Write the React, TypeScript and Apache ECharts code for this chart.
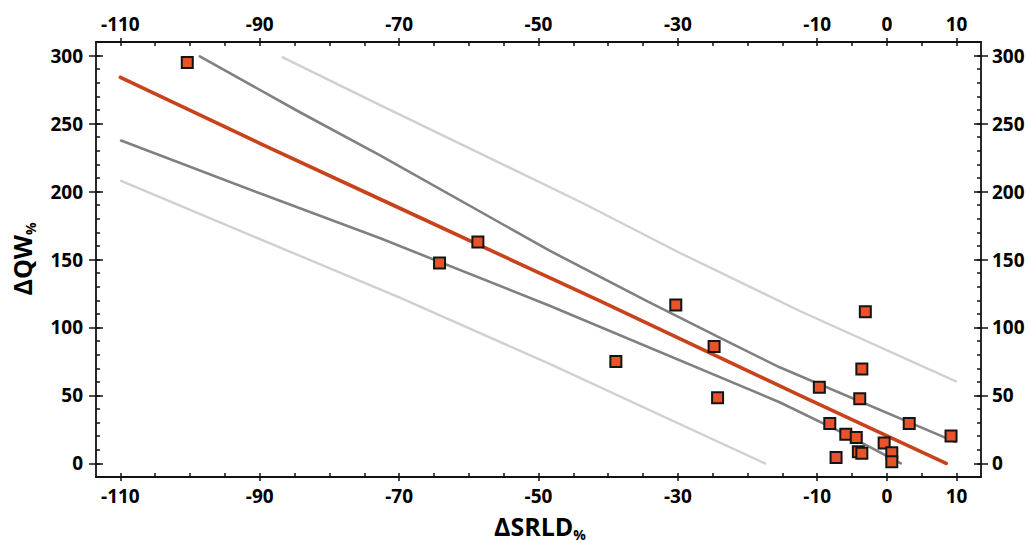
import React, { useEffect, useRef } from "react";
import * as echarts from "echarts";

// ---- data ----
const pointsX = [-100.4, -58.7, -64.2, -30.3, -24.8, -38.9, -24.3, -3.1, -3.6, -9.7, -3.9, 3.2, 9.2, -8.2, -5.9, -4.4, -0.4, 0.7, 0.7, -4.1, -3.6, -7.3];
const pointsY = [295, 162.8, 147.5, 116.5, 86, 75, 48.3, 111.6, 69.5, 56, 47.5, 29.3, 20.2, 29.3, 21.4, 19, 15, 7.8, 1.2, 8.5, 7.5, 4.4];

const fitX = [-110, -90, -69.9, -41.2, -12.5, 8.5];
const fitY = [284, 235.5, 187.7, 119.5, 50, 0];

const upperCiX = [-98.6, -84.3, -72.8, -48.4, -34.5, -24.0, -15.4, 9.8];
const upperCiY = [299.4, 258.5, 226.8, 156.5, 119.5, 92.5, 70.7, 15.8];
const lowerCiX = [-109.9, -90, -72.8, -48.4, -15.4, -5.9, 2];
const lowerCiY = [237.5, 198.7, 165.8, 116, 45, 21.4, 0];

const upperPiX = [-86.7, -72.8, -43.6, -29.7, -12.5, 9.9];
const upperPiY = [298.7, 263.8, 191.4, 154.8, 112.1, 60.4];
const lowerPiX = [-109.9, -69.9, -48.4, -17.5];
const lowerPiY = [207.8, 121.9, 73.2, 0];

const xMajorTicks = [-110, -90, -70, -50, -30, -10, 0, 10];
const xMinorTicks = [-110, -105, -100, -95, -90, -85, -80, -75, -70, -65, -60, -55, -50, -45, -40, -35, -30, -25, -20, -15, -10, -5, 0, 5, 10];
const yMajorTicks = [0, 50, 100, 150, 200, 250, 300];
const yMinorTicks = [0, 10, 20, 30, 40, 50, 60, 70, 80, 90, 100, 110, 120, 130, 140, 150, 160, 170, 180, 190, 200, 210, 220, 230, 240, 250, 260, 270, 280, 290, 300];

const X_MIN = -113.5;
const X_MAX = 13.5;
const Y_MIN = -10;
const Y_MAX = 310;

const FONT = "'Open Sans', 'DejaVu Sans', sans-serif";
const AXIS_COLOR = "#111111";

const zip = (xs: number[], ys: number[]) => xs.map((x, i) => [x, ys[i]]);

function xAxisDef(position: "top" | "bottom", kind: "major" | "inner") {
  const isMajor = kind === "major";
  return {
    type: "value",
    position,
    min: X_MIN,
    max: X_MAX,
    splitLine: { show: false },
    axisLine: { show: isMajor, onZero: false, lineStyle: { color: AXIS_COLOR, width: 1.8 } },
    axisTick: {
      show: true,
      inside: !isMajor,
      length: 4,
      customValues: isMajor ? xMajorTicks : xMinorTicks,
      lineStyle: { color: AXIS_COLOR, width: 1.5 },
    },
    axisLabel: {
      show: isMajor,
      customValues: xMajorTicks,
      margin: 9,
      color: "#000",
      fontFamily: FONT,
      fontWeight: "bold",
      fontSize: 19,
    },
  };
}

function yAxisDef(position: "left" | "right", kind: "major" | "innerMajor" | "innerMinor") {
  const isMajor = kind === "major";
  return {
    type: "value",
    position,
    min: Y_MIN,
    max: Y_MAX,
    splitLine: { show: false },
    axisLine: { show: isMajor, onZero: false, lineStyle: { color: AXIS_COLOR, width: 1.8 } },
    axisTick: {
      show: true,
      inside: !isMajor,
      length: kind === "innerMinor" ? 4 : 7,
      customValues: kind === "innerMinor" ? yMinorTicks : yMajorTicks,
      lineStyle: { color: AXIS_COLOR, width: 1.5 },
    },
    axisLabel: {
      show: isMajor,
      customValues: yMajorTicks,
      margin: position === "left" ? 13 : 11,
      color: "#000",
      fontFamily: FONT,
      fontWeight: "bold",
      fontSize: 19,
    },
  };
}

function lineSeries(name: string, xs: number[], ys: number[], color: string, width: number) {
  return {
    name,
    type: "line",
    xAxisIndex: 0,
    yAxisIndex: 0,
    data: zip(xs, ys),
    showSymbol: false,
    symbol: "none",
    smooth: false,
    lineStyle: { color, width, cap: "round", join: "round" },
    z: 2,
  };
}

export default function App() {
  const ref = useRef<HTMLDivElement>(null);

  useEffect(() => {
    if (!ref.current) return;
    const chart = echarts.init(ref.current, undefined, { renderer: "svg" });
    chart.setOption({
      animation: false,
      backgroundColor: "#ffffff",
      grid: { left: 96, right: 50, top: 42, bottom: 66 },
      xAxis: [
        xAxisDef("bottom", "major"),
        xAxisDef("bottom", "inner"),
        xAxisDef("top", "major"),
        xAxisDef("top", "inner"),
      ],
      yAxis: [
        yAxisDef("left", "major"),
        yAxisDef("left", "innerMajor"),
        yAxisDef("left", "innerMinor"),
        yAxisDef("right", "major"),
        yAxisDef("right", "innerMajor"),
        yAxisDef("right", "innerMinor"),
      ],
      series: [
        lineSeries("Upper prediction", upperPiX, upperPiY, "#d0d0d0", 2.4),
        lineSeries("Lower prediction", lowerPiX, lowerPiY, "#d0d0d0", 2.4),
        lineSeries("Upper confidence", upperCiX, upperCiY, "#808080", 2.6),
        lineSeries("Lower confidence", lowerCiX, lowerCiY, "#808080", 2.6),
        lineSeries("Regression", fitX, fitY, "#c8431b", 3.6),
        {
          name: "Observed",
          type: "scatter",
          xAxisIndex: 0,
          yAxisIndex: 0,
          data: zip(pointsX, pointsY),
          symbol: "rect",
          symbolSize: 11,
          itemStyle: { color: "#e8532a", borderColor: "#141414", borderWidth: 2, opacity: 1 },
          z: 5,
        },
      ],
      graphic: [
        {
          type: "text",
          x: 22,
          y: 259,
          rotation: Math.PI / 2,
          style: {
            text: "{a|ΔQW}{b|%}",
            align: "center",
            verticalAlign: "middle",
            rich: {
              a: { fontFamily: FONT, fontWeight: "bold", fontSize: 25, lineHeight: 30, fill: "#000", verticalAlign: "middle" },
              b: { fontFamily: FONT, fontWeight: "bold", fontSize: 14, lineHeight: 20, fill: "#000", verticalAlign: "bottom" },
            },
          },
        },
        {
          type: "text",
          x: 540,
          y: 526,
          style: {
            text: "{a|ΔSRLD}{b|%}",
            align: "center",
            verticalAlign: "middle",
            rich: {
              a: { fontFamily: FONT, fontWeight: "bold", fontSize: 25, lineHeight: 30, fill: "#000", verticalAlign: "middle" },
              b: { fontFamily: FONT, fontWeight: "bold", fontSize: 14, lineHeight: 20, fill: "#000", verticalAlign: "bottom" },
            },
          },
        },
      ],
    });
    return () => chart.dispose();
  }, []);

  return (
    <div
      ref={ref}
      style={{ position: "absolute", left: 0, top: 0, width: 1031, height: 543, background: "#fff" }}
    />
  );
}
